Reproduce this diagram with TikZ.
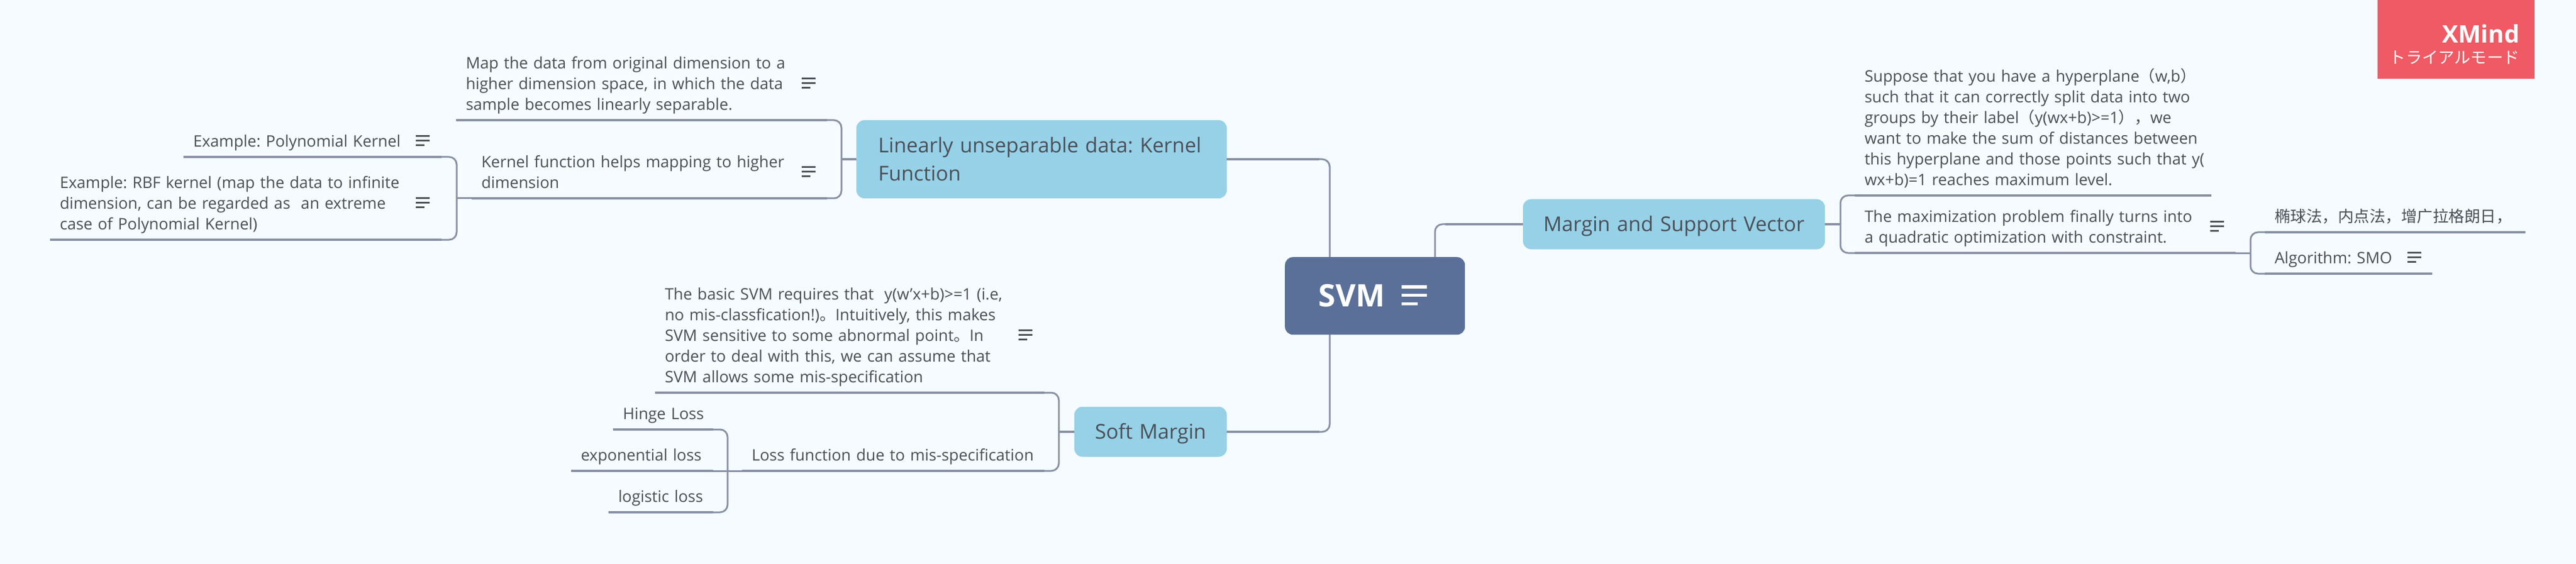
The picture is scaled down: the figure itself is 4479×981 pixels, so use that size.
\documentclass[tikz,border=0pt]{standalone}
\usepackage{fontspec}
\setmainfont{Open Sans}
\newfontfamily\cjk{Noto Sans CJK SC}
\newfontfamily\jp{Noto Sans CJK JP}
\definecolor{bgcol}{HTML}{F5FBFF}
\definecolor{topiccol}{HTML}{96D1E7}
\definecolor{rootcol}{HTML}{5A7099}
\definecolor{linecol}{HTML}{8790A4}
\definecolor{textcol}{HTML}{4A4F57}
\definecolor{markcol}{HTML}{EF5A64}
\newcommand{\linestrut}{\rule[-.24\baselineskip]{0pt}{\baselineskip}}
\tikzset{
  leaf/.style={anchor=south west, inner xsep=17pt, inner ysep=9pt, outer sep=0pt, align=left,
    text=textcol, font=\fontsize{27.5}{36}\selectfont,
    execute at begin node={\frenchspacing\linestrut}, execute at end node={\linestrut}},
  topic/.style={anchor=west, fill=topiccol, rounded corners=14pt, inner xsep=38pt, inner ysep=19pt,
    outer sep=0pt, align=left, text=textcol, font=\fontsize{35.5}{49}\selectfont,
    execute at begin node={\frenchspacing\linestrut}, execute at end node={\linestrut}},
  under/.style={draw=linecol, line width=4.5pt},
  stem/.style={draw=linecol, line width=4.5pt},
  curve/.style={draw=linecol, line width=3pt, rounded corners=13pt},
  pics/noteicon/.style={code={
    \fill[pic actions] (0,0) rectangle (24,3);
    \fill[pic actions] (0,8) rectangle (24,11);
    \fill[pic actions] (0,16) rectangle (15,19);
  }}
}
\begin{document}
\begin{tikzpicture}[x=1pt,y=-1pt]
\fill [bgcol] (0,0) rectangle (4479,981);
\useasboundingbox (0,0) rectangle (4479,981);
\node [anchor=north west, fill=markcol, inner sep=0pt, minimum width=273pt, minimum height=137pt] (xmark) at (4134,0) {};
\node [anchor=east, inner sep=0pt, text=white, font=\fontsize{42}{46}\selectfont\bfseries] (xname) at (4381,59) {XMind};
\node [anchor=east, inner sep=0pt, text=white, font=\fontsize{28.3}{32}\selectfont\jp] (xmode) at (4381,100) {トライアルモード};
\node [anchor=north west, fill=rootcol, rounded corners=14pt, inner sep=0pt, minimum width=313pt, minimum height=135pt,
  text=white, font=\fontsize{54}{60}\selectfont\bfseries] (root) at (2234,447) {SVM\hbox to 81pt{}};
\node [topic, text width=568pt] (kernel) at (1489,277) {Linearly unseparable data: Kernel\\Function};
\node [topic, inner xsep=30pt, text width=465pt, align=center] (margin) at (2648,390) {Margin and Support Vector};
\node [topic, inner xsep=20pt, text width=225pt, align=center] (soft) at (1868,751) {Soft Margin};
\node [leaf, text width=611pt] (map) at (793,209) {Map the data from original dimension to a\\higher dimension space, in which the data\\sample becomes linearly separable.};
\node [leaf, text width=584pt] (kfun) at (820,345) {Kernel function helps mapping to higher\\dimension};
\node [leaf, text width=415pt] (poly) at (319,273) {Example: Polynomial Kernel};
\node [leaf, text width=647pt] (rbf) at (87,417) {Example: RBF kernel (map the data to infinite\\dimension, can be regarded as\ \ an extreme\\case of Polynomial Kernel)};
\node [leaf, text width=643pt] (basic) at (1139,683) {The basic SVM requires that\ \ y(w'x+b)>=1 (i.e,\\no mis-classfication!){\cjk 。}Intuitively, this makes\\SVM sensitive to some abnormal point{\cjk 。}In\\order to deal with this, we can assume that\\SVM allows some mis-specification};
\node [leaf, text width=492pt] (loss) at (1290,819) {Loss function due to mis-specification};
\node [leaf, text width=140pt] (hinge) at (1066,747) {\mbox{Hinge Loss}};
\node [leaf, text width=213pt] (expo) at (993,819) {\mbox{exponential loss}};
\node [leaf, text width=148pt] (logi) at (1058,891) {\mbox{logistic loss}};
\node [leaf, text width=586pt] (sup) at (3225,340) {Suppose that you have a hyperplane{\cjk （}w,b{\cjk ）}\\such that it can correctly split data into two\\groups by their label{\cjk （}y(wx+b)>=1{\cjk ），}we\\want to make the sum of distances between\\\mbox{this hyperplane and those points such that y(}\\wx+b)=1 reaches maximum level.};
\node [leaf, text width=628pt] (maxi) at (3225,440) {The maximization problem finally turns into\\a quadratic optimization with constraint.};
\node [leaf, text width=419pt] (ellip) at (3938,404) {{\cjk 椭球法，内点法，增广拉格朗日，}};
\node [leaf, text width=257pt] (algo) at (3938,476) {Algorithm: SMO};
\coordinate (roota) at (2312,447);
\coordinate (rootb) at (2312,582);
\coordinate (rootc) at (2495,447);
\coordinate (ka) at (2294,277);
\coordinate (sa) at (2294,751);
\coordinate (ma) at (2513,390);
\coordinate (kj) at (1463,277);
\coordinate (fj) at (794,345);
\coordinate (sj) at (1841,751);
\coordinate (lj) at (1265,819);
\coordinate (mj) at (3200,390);
\coordinate (aj) at (3913,440);
\draw [stem] (kernel.east) -- (ka);
\draw [curve] (ka) -| (roota);
\draw [stem] (soft.east) -- (sa);
\draw [curve] (sa) -| (rootb);
\draw [stem] (margin.west) -- (ma);
\draw [curve] (ma) -| (rootc);
\draw [stem] (kernel.west) -- (kj);
\draw [curve] (map.south east) -| (kj) |- (kfun.south east);
\draw [curve] (kfun.south west) -- (fj);
\draw [curve] (poly.south east) -| (fj) |- (rbf.south east);
\draw [stem] (soft.west) -- (sj);
\draw [curve] (basic.south east) -| (sj) |- (loss.south east);
\draw [curve] (loss.south west) -- (lj);
\draw [curve] (hinge.south east) -| (lj) |- (logi.south east);
\draw [curve] (expo.south east) -- (lj);
\draw [stem] (margin.east) -- (mj);
\draw [curve] (sup.south west) -| (mj) |- (maxi.south west);
\draw [curve] (maxi.south east) -- (aj);
\draw [curve] (ellip.south west) -| (aj) |- (algo.south west);
\draw [under] (map.south west) -- (map.south east);
\draw [under] (kfun.south west) -- (kfun.south east);
\draw [under] (poly.south west) -- (poly.south east);
\draw [under] (rbf.south west) -- (rbf.south east);
\draw [under] (basic.south west) -- (basic.south east);
\draw [under] (loss.south west) -- (loss.south east);
\draw [under] (hinge.south west) -- (hinge.south east);
\draw [under] (expo.south west) -- (expo.south east);
\draw [under] (logi.south west) -- (logi.south east);
\draw [under] (sup.south west) -- (sup.south east);
\draw [under] (maxi.south west) -- (maxi.south east);
\draw [under] (ellip.south west) -- (ellip.south east);
\draw [under] (algo.south west) -- (algo.south east);
\pic [fill=white, scale=1.85] at (2437,496) {noteicon};
\pic [fill=textcol] at (1394,135) {noteicon};
\pic [fill=textcol] at (1394,289) {noteicon};
\pic [fill=textcol] at (723,235) {noteicon};
\pic [fill=textcol] at (723,343) {noteicon};
\pic [fill=textcol] at (1771,573) {noteicon};
\pic [fill=textcol] at (3843,384) {noteicon};
\pic [fill=textcol] at (4186,438) {noteicon};
\end{tikzpicture}
\end{document}
